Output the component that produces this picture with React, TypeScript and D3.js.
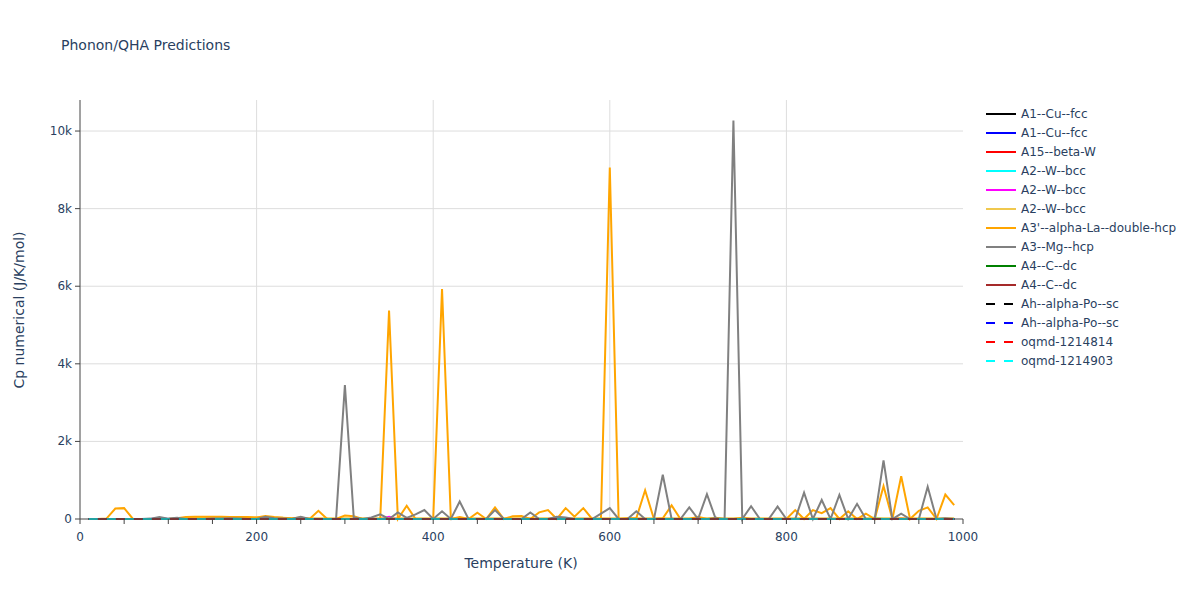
import React from "react";
import * as d3 from "d3";

// Temperatures (K)
const temps: number[] = d3.range(10, 1000, 10);

// Series values (Cp numerical, J/K/mol), one value per temperature
const a3AlphaLa = [
  0, 0, 10, 270, 280, 0, 0, 0, 0, 0,
  20, 50, 60, 60, 60, 60, 50, 50, 50, 40,
  80, 50, 30, 20, 40, 0, 210, 0, 0, 90,
  70, 0, 0, 0, 5370, 0, 340, 0, 0, 0,
  5930, 0, 50, 0, 160, 0, 300, 0, 70, 80,
  0, 170, 230, 0, 280, 60, 280, 0, 0, 9060,
  0, 20, 20, 740, 0, 20, 350, 0, 0, 60,
  0, 0, 0, 0, 30, 0, 0, 0, 0, 0,
  230, 0, 230, 150, 280, 0, 200, 0, 140, 0,
  850, 0, 1100, 0, 210, 300, 0, 630, 360,
];
const a3Mg = [
  0, 0, 0, 0, 0, 0, 0, 10, 50, 10,
  30, 0, 0, 0, 10, 10, 20, 10, 0, 0,
  60, 20, 10, 0, 60, 0, 0, 0, 0, 3450,
  40, 0, 40, 120, 0, 170, 30, 120, 230, 0,
  200, 0, 450, 0, 0, 0, 230, 0, 0, 0,
  170, 0, 0, 60, 40, 0, 0, 0, 140, 280,
  0, 0, 200, 0, 0, 1140, 0, 0, 300, 0,
  640, 0, 0, 10270, 0, 330, 0, 0, 320, 0,
  0, 680, 0, 490, 0, 620, 0, 390, 0, 0,
  1510, 0, 140, 0, 0, 830, 0, 20, 0,
];
const a1CuFcc1 = [
  0, 0, 0, 0, 0, 0, 0, 0, 0, 0, 0, 0, 0, 0, 0, 0, 0, 0, 0, 0,
  0, 0, 0, 0, 0, 0, 0, 0, 0, 0, 0, 0, 0, 0, 0, 0, 0, 0, 0, 0,
  0, 0, 0, 0, 0, 0, 0, 0, 0, 0, 0, 0, 0, 0, 0, 0, 0, 0, 0, 0,
  0, 0, 0, 0, 0, 0, 0, 0, 0, 0, 0, 30, 0, 0, 0, 0, 0, 0, 0, 0,
  0, 0, 0, 0, 0, 0, 0, 0, 0, 0, 0, 0, 0, 0, 0, 0, 0, 0, 0,
];
const a1CuFcc2 = [
  0, 0, 0, 0, 0, 0, 0, 0, 20, 0, 0, 0, 0, 0, 0, 0, 0, 0, 0, 0,
  0, 0, 0, 0, 0, 0, 0, 0, 0, 0, 0, 0, 0, 0, 0, 0, 0, 0, 0, 0,
  0, 0, 0, 0, 0, 0, 0, 0, 0, 0, 0, 0, 0, 0, 0, 0, 0, 0, 0, 0,
  0, 0, 0, 0, 0, 0, 0, 0, 0, 0, 0, 0, 0, 0, 0, 0, 0, 0, 0, 0,
  0, 0, 0, 0, 0, 0, 0, 0, 0, 0, 0, 0, 0, 0, 0, 0, 0, 0, 0,
];
const a15BetaW = [
  0, 0, 0, 0, 0, 0, 0, 0, 0, 0, 0, 0, 0, 0, 0, 0, 0, 0, 0, 0,
  0, 0, 0, 0, 0, 0, 0, 0, 0, 0, 0, 0, 0, 0, 0, 0, 0, 0, 0, 0,
  0, 0, 0, 0, 0, 0, 0, 0, 0, 0, 0, 0, 0, 0, 0, 0, 0, 0, 0, 0,
  0, 0, 0, 0, 0, 0, 0, 0, 0, 0, 0, 0, 0, 0, 0, 0, 0, 0, 0, 0,
  0, 0, 0, 0, 0, 0, 0, 0, 0, 0, 0, 0, 20, 0, 0, 0, 0, 0, 0,
];
const a2WBcc1 = [
  0, 0, 0, 0, 0, 0, 0, 0, 0, 0, 0, 0, 0, 0, 0, 0, 0, 0, 0, 0,
  0, 0, 0, 0, 0, 0, 0, 0, 0, 0, 0, 0, 0, 0, 0, 0, 0, 0, 0, 0,
  0, 0, 0, 0, 0, 0, 0, 0, 0, 0, 0, 0, 0, 0, 0, 0, 0, 0, 0, 0,
  0, 0, 0, 0, 0, 0, 0, 0, 0, 0, 0, 0, 0, 0, 0, 0, 0, 0, 0, 0,
  0, 0, 0, 0, 0, 0, 0, 0, 0, 40, 0, 0, 0, 0, 0, 0, 0, 0, 0,
];
const a2WBcc2 = [
  0, 0, 0, 0, 0, 0, 0, 0, 0, 0, 0, 0, 0, 0, 0, 0, 0, 0, 0, 0,
  0, 0, 0, 0, 0, 0, 0, 0, 0, 0, 0, 0, 0, 0, 60, 0, 0, 0, 0, 0,
  0, 0, 0, 0, 0, 0, 0, 0, 0, 0, 0, 0, 0, 0, 0, 0, 0, 0, 0, 0,
  0, 0, 0, 0, 0, 0, 0, 0, 0, 0, 0, 0, 0, 0, 0, 0, 0, 0, 0, 0,
  0, 0, 0, 0, 0, 0, 0, 0, 0, 0, 0, 0, 0, 0, 0, 0, 0, 0, 0,
];
const a2WBcc3 = [
  0, 0, 0, 0, 0, 0, 0, 0, 0, 0, 10, 30, 40, 40, 40, 40, 40, 40, 40, 40,
  40, 30, 30, 20, 20, 20, 20, 20, 20, 20, 20, 20, 20, 20, 20, 20, 20, 20, 20, 20,
  20, 20, 20, 20, 20, 20, 20, 20, 20, 20, 20, 20, 20, 20, 20, 20, 20, 20, 20, 20,
  20, 20, 20, 20, 20, 20, 20, 20, 20, 20, 20, 20, 20, 20, 20, 20, 20, 20, 20, 20,
  20, 20, 20, 20, 20, 20, 20, 20, 20, 20, 20, 20, 20, 20, 20, 20, 20, 20, 20,
];
const a4CDc1 = [
  0, 0, 0, 0, 0, 0, 0, 0, 0, 0, 0, 0, 0, 0, 0, 0, 0, 0, 0, 0,
  0, 0, 0, 0, 0, 0, 0, 0, 0, 0, 0, 0, 0, 0, 0, 0, 0, 0, 0, 0,
  0, 0, 0, 0, 0, 0, 0, 0, 0, 0, 0, 0, 0, 0, 0, 0, 0, 0, 0, 0,
  0, 0, 0, 0, 0, 0, 0, 0, 0, 0, 0, 0, 0, 0, 0, 0, 0, 0, 0, 0,
  0, 0, 0, 0, 0, 0, 0, 0, 0, 0, 0, 0, 0, 0, 0, 0, 0, 0, 0,
];
const a4CDc2 = [
  0, 0, 0, 0, 0, 0, 0, 0, 0, 0, 0, 0, 0, 0, 0, 0, 0, 0, 0, 0,
  0, 0, 0, 0, 0, 0, 0, 0, 0, 0, 0, 0, 0, 0, 0, 0, 0, 0, 0, 0,
  0, 0, 0, 0, 0, 0, 0, 0, 0, 0, 0, 0, 0, 0, 0, 0, 0, 0, 0, 0,
  0, 0, 0, 0, 0, 0, 0, 0, 0, 0, 0, 0, 0, 0, 0, 0, 0, 0, 0, 0,
  0, 0, 0, 0, 0, 0, 0, 0, 0, 0, 0, 0, 0, 0, 0, 0, 0, 0, 0,
];
const ahAlphaPo1 = a4CDc1.slice();
const ahAlphaPo2 = a4CDc1.slice();
const oqmd1214814 = a4CDc1.slice();
const oqmd1214903 = a4CDc1.slice();

// Legend entries and their series, in drawing order
const seriesNames = [
  "A1--Cu--fcc", "A1--Cu--fcc", "A15--beta-W", "A2--W--bcc", "A2--W--bcc", "A2--W--bcc",
  "A3'--alpha-La--double-hcp", "A3--Mg--hcp", "A4--C--dc", "A4--C--dc",
  "Ah--alpha-Po--sc", "Ah--alpha-Po--sc", "oqmd-1214814", "oqmd-1214903",
];
const seriesValues = [
  a1CuFcc1, a1CuFcc2, a15BetaW, a2WBcc1, a2WBcc2, a2WBcc3,
  a3AlphaLa, a3Mg, a4CDc1, a4CDc2, ahAlphaPo1, ahAlphaPo2, oqmd1214814, oqmd1214903,
];
const seriesColors = [
  "black", "blue", "red", "cyan", "magenta", "#f0c84e",
  "orange", "gray", "green", "brown", "black", "blue", "red", "cyan",
];
const seriesDashed = [
  false, false, false, false, false, false, false, false, false, false, true, true, true, true,
];

const xTicks = [0, 200, 400, 600, 800, 1000];
const yTicks = [0, 2000, 4000, 6000, 8000, 10000];
const yTickLabels = ["0", "2k", "4k", "6k", "8k", "10k"];

const W = 1200, H = 600;
const L = 80, R = 963, T = 100, B = 519;
const FONT = '"DejaVu Sans", Verdana, sans-serif';
const TXT = "#2a3f5f";

export default function App() {
  const x = d3.scaleLinear().domain([0, 1000]).range([L, R]);
  const y = d3.scaleLinear().domain([0, 10800]).range([B, T]);
  const line = d3.line<number>().x((_, i) => x(temps[i])).y((v) => y(v));
  const minorTicks = d3.range(0, 1001, 50);

  return (
    <svg width={W} height={H} style={{ position: "absolute", left: 0, top: 0, background: "white" }}>
      <text x={61} y={50} fontFamily={FONT} fontSize={14} fill={TXT}>Phonon/QHA Predictions</text>
      {/* grid */}
      {xTicks.filter((t) => t > 0 && t < 1000).map((t) => (
        <line key={"gx" + t} x1={x(t)} x2={x(t)} y1={T} y2={B} stroke="#dddddd" strokeWidth={1} />
      ))}
      {yTicks.filter((t) => t > 0).map((t) => (
        <line key={"gy" + t} x1={L} x2={R} y1={y(t)} y2={y(t)} stroke="#dddddd" strokeWidth={1} />
      ))}
      {/* series */}
      {seriesValues.map((vals, i) => (
        <path key={"s" + i} d={line(vals) || ""} fill="none" stroke={seriesColors[i]} strokeWidth={2}
          strokeDasharray={seriesDashed[i] ? "9,9" : undefined} />
      ))}
      {/* axes */}
      <line x1={L} x2={L} y1={T} y2={B} stroke="#444" strokeWidth={1} />
      <line x1={L} x2={R} y1={B} y2={B} stroke="#444" strokeWidth={1} />
      {minorTicks.map((t) => (
        <line key={"tx" + t} x1={x(t)} x2={x(t)} y1={B} y2={B + 5} stroke="#444" strokeWidth={1} />
      ))}
      {yTicks.map((t) => (
        <line key={"ty" + t} x1={L - 5} x2={L} y1={y(t)} y2={y(t)} stroke="#444" strokeWidth={1} />
      ))}
      {xTicks.map((t) => (
        <text key={"lx" + t} x={x(t)} y={541} textAnchor="middle" fontFamily={FONT} fontSize={12} fill={TXT}>{t}</text>
      ))}
      {yTicks.map((t, i) => (
        <text key={"ly" + t} x={72} y={y(t) + 4} textAnchor="end" fontFamily={FONT} fontSize={12} fill={TXT}>{yTickLabels[i]}</text>
      ))}
      <text x={521} y={568} textAnchor="middle" fontFamily={FONT} fontSize={14} fill={TXT}>Temperature (K)</text>
      <text transform="translate(24,310) rotate(-90)" textAnchor="middle" fontFamily={FONT} fontSize={14} fill={TXT}>Cp numerical (J/K/mol)</text>
      {/* legend */}
      {seriesNames.map((n, i) => {
        const yy = 114 + i * 19;
        return (
          <g key={"lg" + i}>
            <line x1={986} x2={1016} y1={yy} y2={yy} stroke={seriesColors[i]} strokeWidth={2}
              strokeDasharray={seriesDashed[i] ? "9,9" : undefined} />
            <text x={1021} y={yy + 4} fontFamily={FONT} fontSize={12} fill={TXT}>{n}</text>
          </g>
        );
      })}
    </svg>
  );
}
